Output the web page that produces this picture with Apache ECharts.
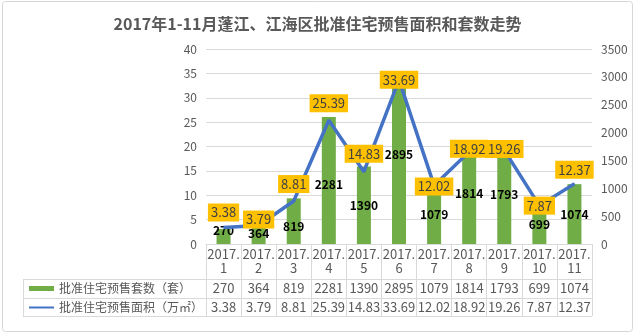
<!DOCTYPE html>
<html>
<head>
<meta charset="utf-8">
<script src="https://cdn.jsdelivr.net/npm/echarts@6/dist/echarts.min.js"></script>
<style>
  html, body { margin: 0; padding: 0; background: #fff; }
  #chart { width: 635px; height: 333px; }
</style>
</head>
<body>
<div id="chart"></div>
<script>
// Monthly approved pre-sale housing in Pengjiang / Jianghai districts, Jan–Nov 2017
const titleText = '2017年1-11月蓬江、江海区批准住宅预售面积和套数走势';
const categories = ['2017.1', '2017.2', '2017.3', '2017.4', '2017.5', '2017.6',
                    '2017.7', '2017.8', '2017.9', '2017.10', '2017.11'];
const countName = '批准住宅预售套数（套）';
const areaName = '批准住宅预售面积（万㎡）';
const countValues = [270, 364, 819, 2281, 1390, 2895, 1079, 1814, 1793, 699, 1074];
const areaValues = [3.38, 3.79, 8.81, 25.39, 14.83, 33.69, 12.02, 18.92, 19.26, 7.87, 12.37];
const areaTicks = { min: 0, max: 40, interval: 5 };
const countTicks = { min: 0, max: 3500, interval: 500 };

// label nudges (px, vertical) so the callouts sit clear of the line
const areaLabelDy = [-15, -6, -17, -17, -18, 0, 1, -3, -1, 0, -14];
const countLabelDy = [-6, 0, 5, 4, 0, -9, 0, 0, 0, 0, 0];

const W = 635, H = 333;
const gridLeft = 206, gridRight = 43, gridTop = 49, gridBottom = 89;
const plotBottom = H - gridBottom;          // 244
const plotRight = W - gridRight;            // 592
const tableLeft = 23;
const rowLines = [279, 298, 316];
const lineColor = '#d9d9d9';
const textColor = '#595959';
const font = '"Noto Sans CJK SC", "Microsoft YaHei", sans-serif';

const chart = echarts.init(document.getElementById('chart'));

const tableGraphics = rowLines.map(y => ({
  type: 'line', silent: true,
  shape: { x1: tableLeft, y1: y + 0.5, x2: plotRight, y2: y + 0.5 },
  style: { stroke: lineColor, lineWidth: 1 }
}));
tableGraphics.push({
  type: 'line', silent: true,
  shape: { x1: tableLeft + 0.5, y1: rowLines[0], x2: tableLeft + 0.5, y2: rowLines[2] },
  style: { stroke: lineColor, lineWidth: 1 }
});
tableGraphics.push({
  type: 'rect', silent: true, z: -1,
  shape: { x: 2.5, y: 1.5, width: 630, height: 330, r: 3 },
  style: { fill: 'none', stroke: '#d6d6d6', lineWidth: 1 }
});

// extra category axes that print one table row of values under each month
function valueRowAxis(values, rowCenter) {
  return {
    type: 'category', data: categories, gridIndex: 0, position: 'bottom',
    axisLine: { show: false }, axisTick: { show: false }, splitLine: { show: false },
    axisLabel: {
      interval: 0, margin: rowCenter - plotBottom - 7, verticalAlign: 'top', lineHeight: 14,
      fontSize: 13, color: textColor, fontFamily: font,
      formatter: (v, i) => String(values[i])
    }
  };
}

chart.setOption({
  animation: false,
  textStyle: { fontFamily: font },
  title: {
    text: titleText, left: 'center', top: 11,
    textStyle: { fontSize: 16, fontWeight: 'bold', color: textColor, fontFamily: font }
  },
  legend: {
    orient: 'vertical', left: 28, top: rowLines[0], padding: 0,
    itemWidth: 25, itemHeight: 5, itemGap: 0,
    selectedMode: false,
    textStyle: { fontSize: 12, color: textColor, lineHeight: 19, fontFamily: font },
    data: [
      { name: countName, icon: 'rect' },
      { name: areaName, itemStyle: { opacity: 0 } }
    ]
  },
  grid: { left: gridLeft, right: gridRight, top: gridTop, bottom: gridBottom, containLabel: false },
  xAxis: [
    {
      type: 'category', data: categories, position: 'bottom',
      axisLine: { lineStyle: { color: lineColor } },
      axisTick: { show: true, alignWithLabel: false, length: rowLines[2] - plotBottom, lineStyle: { color: lineColor } },
      axisLabel: {
        interval: 0, margin: 3, fontSize: 13, lineHeight: 14, color: textColor, fontFamily: font,
        formatter: v => v.replace('.', '.\n')
      }
    },
    valueRowAxis(countValues, (rowLines[0] + rowLines[1]) / 2),
    valueRowAxis(areaValues.map(v => v.toFixed(2)), (rowLines[1] + rowLines[2]) / 2)
  ],
  yAxis: [
    {
      type: 'value', min: areaTicks.min, max: areaTicks.max, interval: areaTicks.interval,
      axisLine: { show: false }, axisTick: { show: false },
      axisLabel: { margin: 9, fontSize: 12, color: textColor, fontFamily: font },
      splitLine: { lineStyle: { color: lineColor, width: 1 } }
    },
    {
      type: 'value', min: countTicks.min, max: countTicks.max, interval: countTicks.interval,
      axisLine: { show: false }, axisTick: { show: false },
      axisLabel: { margin: 9, fontSize: 12, color: textColor, fontFamily: font, formatter: v => String(v) },
      splitLine: { show: false }
    }
  ],
  graphic: tableGraphics,
  series: [
    {
      name: countName, type: 'bar', yAxisIndex: 1, barWidth: 14,
      itemStyle: { color: '#70AD47' },
      label: {
        show: true, position: 'inside', fontSize: 12, fontWeight: 'bold', color: '#000', fontFamily: font
      },
      labelLayout: p => ({ dy: countLabelDy[p.dataIndex] }),
      data: countValues,
      z: 2
    },
    {
      name: areaName, type: 'line', yAxisIndex: 0,
      symbol: 'circle', symbolSize: 1, showSymbol: true, smooth: false,
      lineStyle: { color: '#4472C4', width: 3.5 },
      itemStyle: { color: '#4472C4' },
      label: {
        show: true, position: 'inside', fontSize: 13, color: '#404040', fontFamily: font,
        backgroundColor: '#FFC000', padding: [3, 3, 2, 3],
        formatter: p => p.value.toFixed(2)
      },
      labelLayout: p => ({ dy: areaLabelDy[p.dataIndex] }),
      data: areaValues,
      z: 3
    }
  ]
});
</script>
</body>
</html>
